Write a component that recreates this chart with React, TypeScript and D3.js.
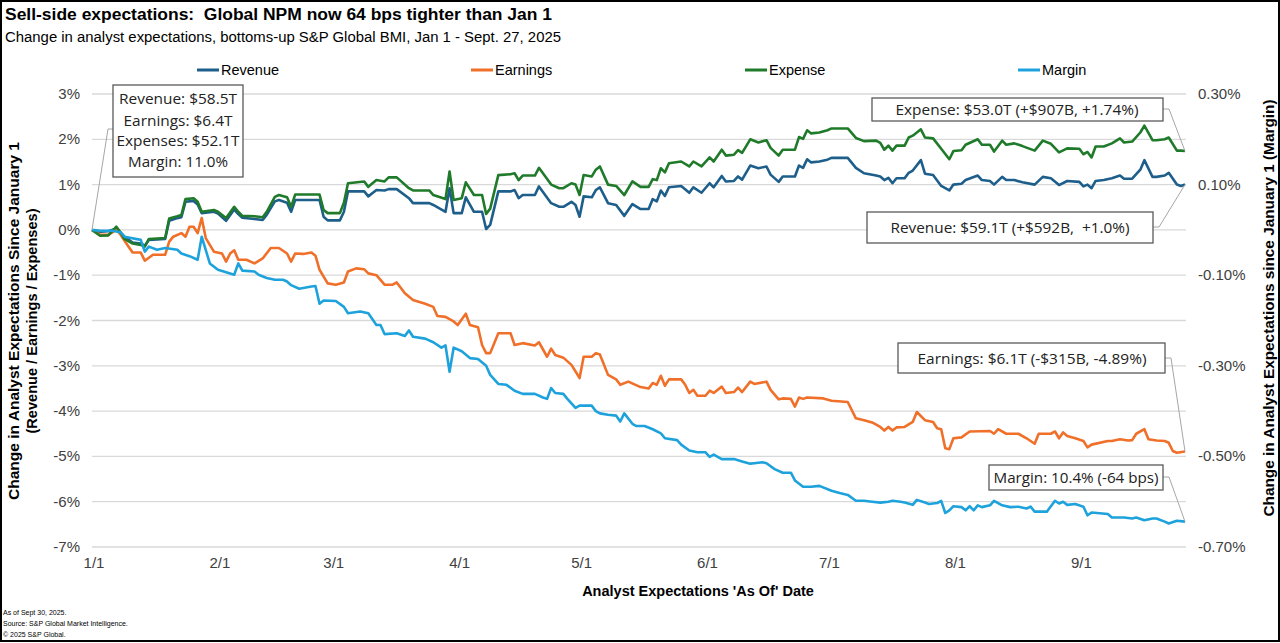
import React from "react";
import * as d3 from "d3";

// ---------- DATA (day offset from Jan 1 2025, % change) ----------
const revenuePoints: [number, number][] = [
  [0, 0], [2, -0.04], [4, -0.03], [6, 0.03], [7, -0.06], [8, -0.15], [10, -0.28], [12, -0.3], [13, -0.35], [14, -0.22],
  [18, -0.2], [19, 0.2], [21, 0.26], [22, 0.28], [23, 0.62], [25, 0.64], [26, 0.56], [27, 0.37], [30, 0.4], [31, 0.36],
  [33, 0.2], [35, 0.45], [36, 0.35], [37, 0.27], [40, 0.24], [42, 0.22], [43, 0.33], [45, 0.63], [46, 0.66], [48, 0.6],
  [49, 0.4], [50, 0.66], [56, 0.66], [57, 0.29], [58, 0.21], [61, 0.21], [62, 0.4], [63, 0.85], [67, 0.85], [68, 0.74],
  [70, 0.88], [72, 0.87], [73, 0.9], [75, 0.9], [78, 0.7], [79, 0.59], [83, 0.59], [84, 0.55], [87, 0.4], [88, 0.92],
  [89, 0.37], [91, 0.37], [92, 0.72], [94, 0.4], [96, 0.4], [97, 0.02], [98, 0.11], [100, 0.85], [103, 0.85], [104, 0.88],
  [105, 0.7], [106, 0.77], [109, 0.77], [110, 0.96], [113, 0.59], [115, 0.51], [116, 0.51], [118, 0.62], [119, 0.55], [120, 0.29],
  [121, 0.74], [123, 0.72], [124, 0.88], [125, 0.94], [127, 0.59], [129, 0.55], [131, 0.31], [133, 0.57], [135, 0.46], [137, 0.46],
  [138, 0.68], [139, 0.63], [140, 0.87], [141, 0.75], [142, 0.94], [145, 0.97], [147, 0.82], [148, 0.94], [150, 0.82], [152, 1.03],
  [153, 0.94], [155, 1.19], [156, 1.07], [158, 1.08], [159, 1.18], [160, 1.11], [162, 1.42], [164, 1.36], [166, 1.4], [167, 1.22],
  [169, 1.06], [170, 1.18], [173, 1.18], [174, 1.42], [175, 1.37], [176, 1.56], [177, 1.49], [179, 1.51], [181, 1.55], [182, 1.59],
  [186, 1.59], [188, 1.37], [190, 1.25], [193, 1.2], [194, 1.18], [195, 1.1], [196, 1.15], [197, 1.03], [198, 1.14], [200, 1.14],
  [201, 1.26], [202, 1.31], [204, 1.54], [205, 1.24], [207, 1.21], [209, 0.97], [211, 0.87], [212, 1.0], [214, 1.02], [215, 1.1],
  [218, 1.2], [219, 1.1], [221, 1.08], [222, 1.0], [224, 1.17], [225, 1.1], [227, 1.1], [229, 1.05], [232, 1.0], [234, 1.17],
  [236, 1.14], [238, 0.99], [240, 1.08], [243, 1.06], [244, 0.96], [245, 1.0], [246, 0.92], [247, 1.08], [249, 1.1], [251, 1.14],
  [253, 1.2], [254, 1.13], [256, 1.13], [258, 1.33], [259, 1.54], [261, 1.17], [262, 1.17], [264, 1.2], [265, 1.26], [267, 1.0],
  [268, 0.97], [269, 1.0],
];

const expensePoints: [number, number][] = [
  [0, 0], [2, -0.13], [4, -0.12], [6, 0.07], [7, -0.05], [8, -0.2], [10, -0.3], [12, -0.33], [13, -0.37], [14, -0.2],
  [18, -0.18], [19, 0.25], [21, 0.3], [22, 0.33], [23, 0.68], [25, 0.7], [26, 0.62], [27, 0.4], [30, 0.44], [31, 0.4],
  [33, 0.26], [35, 0.51], [36, 0.4], [37, 0.31], [40, 0.3], [42, 0.28], [43, 0.4], [45, 0.73], [46, 0.77], [48, 0.72],
  [49, 0.51], [50, 0.78], [56, 0.78], [57, 0.44], [58, 0.37], [61, 0.37], [62, 0.6], [63, 1.03], [67, 1.07], [68, 0.95],
  [70, 1.1], [72, 1.07], [73, 1.16], [75, 1.16], [78, 0.92], [79, 0.87], [83, 0.87], [84, 0.77], [87, 0.68], [88, 1.29],
  [89, 0.66], [91, 0.7], [92, 1.05], [94, 0.77], [96, 0.77], [97, 0.35], [98, 0.47], [100, 1.21], [103, 1.23], [104, 1.25],
  [105, 1.1], [106, 1.2], [109, 1.2], [110, 1.37], [113, 1.0], [115, 0.92], [116, 0.92], [118, 1.03], [119, 1.0], [120, 0.77],
  [121, 1.21], [123, 1.18], [124, 1.33], [125, 1.4], [127, 1.0], [129, 0.97], [131, 0.77], [133, 1.07], [135, 0.95], [137, 0.95],
  [138, 1.12], [139, 1.1], [140, 1.36], [141, 1.27], [142, 1.47], [145, 1.51], [147, 1.4], [148, 1.51], [150, 1.4], [152, 1.6],
  [153, 1.51], [155, 1.77], [156, 1.64], [158, 1.66], [159, 1.76], [160, 1.7], [162, 2.0], [164, 1.93], [166, 1.98], [167, 1.81],
  [169, 1.64], [170, 1.77], [173, 1.77], [174, 2.05], [175, 2.01], [176, 2.2], [177, 2.13], [179, 2.15], [181, 2.2], [182, 2.24],
  [186, 2.24], [188, 2.03], [190, 1.96], [193, 1.97], [194, 1.92], [195, 1.77], [196, 1.86], [197, 1.75], [198, 1.86], [200, 1.86],
  [201, 2.04], [202, 2.08], [204, 2.22], [205, 2.04], [207, 2.02], [209, 1.79], [211, 1.56], [212, 1.74], [214, 1.76], [215, 1.88],
  [218, 2.0], [219, 1.88], [221, 1.88], [222, 1.73], [224, 1.97], [225, 1.88], [227, 1.91], [229, 1.85], [232, 1.75], [234, 1.97],
  [236, 1.9], [238, 1.71], [240, 1.8], [243, 1.79], [244, 1.67], [245, 1.72], [246, 1.6], [247, 1.84], [249, 1.84], [251, 1.91],
  [253, 2.02], [254, 1.93], [256, 1.95], [258, 2.15], [259, 2.3], [261, 1.98], [262, 1.98], [264, 2.0], [265, 2.04], [267, 1.75],
  [268, 1.75], [269, 1.74],
];

const earningsPoints: [number, number][] = [
  [0, 0], [2, -0.11], [4, -0.11], [6, 0.0], [7, -0.1], [9, -0.37], [10, -0.5], [12, -0.5], [13, -0.68], [15, -0.55],
  [18, -0.55], [19, -0.26], [20, -0.15], [22, -0.07], [23, -0.15], [24, 0.07], [25, 0.07], [26, -0.07], [27, 0.26], [28, -0.18],
  [30, -0.48], [32, -0.52], [33, -0.7], [34, -0.52], [35, -0.45], [36, -0.66], [38, -0.66], [40, -0.74], [42, -0.63], [44, -0.4],
  [46, -0.4], [48, -0.52], [49, -0.7], [50, -0.52], [52, -0.53], [54, -0.5], [55, -0.57], [56, -0.88], [58, -1.18], [60, -1.21],
  [62, -1.16], [63, -0.92], [65, -0.85], [67, -0.87], [68, -0.96], [70, -1.0], [72, -1.21], [74, -1.21], [75, -1.16], [77, -1.4],
  [79, -1.55], [82, -1.63], [84, -1.7], [85, -1.9], [87, -1.92], [89, -2.02], [90, -2.1], [92, -1.85], [93, -2.1], [95, -2.15],
  [96, -2.54], [97, -2.72], [98, -2.72], [100, -2.28], [103, -2.28], [104, -2.54], [106, -2.5], [109, -2.55], [110, -2.48], [112, -2.8],
  [113, -2.62], [114, -2.76], [116, -2.82], [118, -2.98], [120, -3.27], [121, -2.8], [123, -2.8], [124, -2.72], [125, -2.75], [127, -3.2],
  [129, -3.3], [130, -3.42], [132, -3.35], [135, -3.47], [137, -3.5], [138, -3.38], [139, -3.42], [140, -3.22], [141, -3.44], [142, -3.3],
  [145, -3.3], [146, -3.42], [147, -3.6], [148, -3.53], [149, -3.66], [151, -3.66], [152, -3.55], [153, -3.6], [155, -3.46], [156, -3.6],
  [158, -3.58], [159, -3.48], [160, -3.58], [162, -3.35], [163, -3.4], [166, -3.35], [167, -3.53], [169, -3.74], [170, -3.72], [172, -3.73],
  [173, -3.9], [174, -3.7], [175, -3.73], [176, -3.7], [180, -3.72], [182, -3.77], [186, -3.8], [188, -4.16], [190, -4.2], [192, -4.25],
  [194, -4.35], [195, -4.43], [196, -4.35], [197, -4.43], [198, -4.36], [200, -4.35], [202, -4.24], [203, -4.02], [205, -4.2], [207, -4.24],
  [208, -4.38], [209, -4.4], [210, -4.82], [211, -4.84], [212, -4.6], [214, -4.58], [216, -4.45], [221, -4.44], [222, -4.5], [223, -4.4],
  [225, -4.5], [228, -4.5], [230, -4.6], [232, -4.72], [233, -4.5], [236, -4.5], [237, -4.45], [238, -4.6], [239, -4.47], [240, -4.55],
  [242, -4.6], [244, -4.66], [245, -4.8], [246, -4.74], [250, -4.66], [251, -4.66], [253, -4.62], [255, -4.65], [256, -4.64], [257, -4.5],
  [259, -4.4], [260, -4.62], [262, -4.65], [264, -4.66], [265, -4.7], [266, -4.88], [267, -4.92], [269, -4.89],
];

// Margin change in percentage points (right axis)
const marginPoints: [number, number][] = [
  [0, 0], [2, -0.002], [5, -0.002], [7, -0.005], [8, -0.015], [12, -0.022], [13, -0.048], [14, -0.037], [16, -0.044], [18, -0.04],
  [21, -0.044], [22, -0.052], [24, -0.058], [26, -0.066], [27, -0.015], [29, -0.074], [31, -0.088], [35, -0.099], [36, -0.074], [37, -0.09],
  [40, -0.092], [41, -0.099], [43, -0.106], [45, -0.11], [47, -0.11], [48, -0.114], [49, -0.122], [51, -0.13], [54, -0.125], [55, -0.124],
  [56, -0.163], [57, -0.156], [60, -0.157], [62, -0.17], [63, -0.184], [66, -0.18], [68, -0.184], [70, -0.21], [71, -0.21], [72, -0.23],
  [75, -0.228], [77, -0.234], [78, -0.222], [79, -0.236], [82, -0.24], [84, -0.248], [86, -0.26], [87, -0.255], [88, -0.313], [89, -0.26],
  [91, -0.268], [93, -0.283], [95, -0.285], [97, -0.3], [98, -0.32], [100, -0.34], [102, -0.342], [104, -0.355], [106, -0.362], [109, -0.362],
  [111, -0.37], [112, -0.373], [113, -0.349], [114, -0.36], [116, -0.362], [117, -0.373], [119, -0.393], [120, -0.388], [123, -0.388], [124, -0.4],
  [125, -0.405], [127, -0.408], [129, -0.41], [130, -0.423], [131, -0.405], [133, -0.428], [134, -0.433], [136, -0.433], [138, -0.44], [140, -0.449],
  [141, -0.46], [144, -0.464], [145, -0.474], [147, -0.487], [149, -0.491], [151, -0.491], [152, -0.501], [153, -0.496], [155, -0.506], [158, -0.506],
  [160, -0.511], [162, -0.516], [163, -0.515], [165, -0.513], [166, -0.515], [168, -0.528], [170, -0.536], [172, -0.536], [173, -0.553], [175, -0.567],
  [177, -0.567], [179, -0.565], [182, -0.576], [184, -0.581], [186, -0.585], [188, -0.598], [190, -0.598], [192, -0.6], [194, -0.602], [196, -0.6],
  [197, -0.598], [199, -0.6], [200, -0.602], [202, -0.607], [203, -0.596], [205, -0.602], [206, -0.605], [208, -0.603], [209, -0.598], [210, -0.625],
  [211, -0.619], [212, -0.61], [214, -0.612], [215, -0.619], [216, -0.61], [217, -0.619], [218, -0.608], [219, -0.612], [221, -0.608], [222, -0.598],
  [224, -0.608], [226, -0.612], [228, -0.611], [230, -0.615], [231, -0.611], [232, -0.622], [235, -0.622], [237, -0.598], [238, -0.604], [239, -0.6],
  [240, -0.607], [242, -0.605], [244, -0.611], [245, -0.63], [246, -0.624], [250, -0.627], [251, -0.635], [254, -0.635], [256, -0.637], [257, -0.635],
  [259, -0.641], [261, -0.637], [262, -0.637], [264, -0.644], [265, -0.648], [267, -0.642], [269, -0.644],
];

const leftTickValues = [3, 2, 1, 0, -1, -2, -3, -4, -5, -6, -7];
const rightTickValues = [0.3, 0.1, -0.1, -0.3, -0.5, -0.7];
const monthTickDates = ["2025-01-01", "2025-02-01", "2025-03-01", "2025-04-01", "2025-05-01", "2025-06-01", "2025-07-01", "2025-08-01", "2025-09-01"];
const monthTickLabels = ["1/1", "2/1", "3/1", "4/1", "5/1", "6/1", "7/1", "8/1", "9/1"];
const seriesNames = ["Revenue", "Earnings", "Expense", "Margin"];

const titleText = "Sell-side expectations:  Global NPM now 64 bps tighter than Jan 1";
const subtitleText = "Change in analyst expectations, bottoms-up S&P Global BMI, Jan 1 - Sept. 27, 2025";
const startBoxLines = ["Revenue: $58.5T", "Earnings: $6.4T", "Expenses: $52.1T", "Margin: 11.0%"];
const expenseLabel = "Expense: $53.0T (+$907B, +1.74%)";
const revenueLabel = "Revenue: $59.1T (+$592B,  +1.0%)";
const earningsLabel = "Earnings: $6.1T (-$315B, -4.89%)";
const marginLabel = "Margin: 10.4% (-64 bps)";
const leftTitle1 = "Change in Analyst Expectations Since January 1";
const leftTitle2 = "(Revenue / Earnings / Expenses)";
const rightTitle = "Change in Analyst Expectations since January 1 (Margin)";
const xTitle = "Analyst Expectations 'As Of' Date";
const footerLines = ["As of Sept 30, 2025.", "Source: S&P Global Market Intelligence.", "\u00A9 2025 S&P Global."];

// ---------- STYLE ----------
const COLORS: Record<string, string> = {
  Revenue: "#1d5f8a",
  Earnings: "#f0702a",
  Expense: "#1f7a2a",
  Margin: "#1ea2dc",
};
const FONT = "'Liberation Sans', Arial, Helvetica, sans-serif";
const BOXFONT = "'Open Sans', 'Noto Sans', sans-serif";
const PRE = { whiteSpace: "pre" as const };

export default function App() {
  const W = 1280;
  const H = 643;
  const base = new Date(2025, 0, 1);
  const toDate = (d: number) => d3.timeDay.offset(base, d);
  const parse = d3.timeParse("%Y-%m-%d");

  const x = d3.scaleTime().domain([base, toDate(269)]).range([92, 1185]);
  const yL = d3.scaleLinear().domain([-7, 3]).range([547, 94]);
  const yR = d3.scaleLinear().domain([-0.7, 0.3]).range([547, 94]);

  const lineL = d3
    .line<[number, number]>()
    .x((p) => x(toDate(p[0])))
    .y((p) => yL(p[1]));
  const lineR = d3
    .line<[number, number]>()
    .x((p) => x(toDate(p[0])))
    .y((p) => yR(p[1]));

  const last = (arr: [number, number][]) => arr[arr.length - 1];
  const endX = x(toDate(last(revenuePoints)[0]));
  const startX = x(toDate(revenuePoints[0][0]));
  const startY = yL(revenuePoints[0][1]);

  const fmtL = (v: number) => `${v}%`;
  const fmtR = (v: number) => `${v.toFixed(2)}%`;

  const legendX = [197, 471, 745, 1018];

  const endBoxes = [
    { label: expenseLabel, bx: 872, by: 98, bw: 291, bh: 23, tx: 1017, ty: 114.5, tl: 243, lx: 1163, ly: 109, ex: endX, ey: yL(last(expensePoints)[1]) },
    { label: revenueLabel, bx: 867, by: 212, bw: 286, bh: 31, tx: 1010, ty: 233, tl: 239, lx: 1153, ly: 227, ex: endX, ey: yL(last(revenuePoints)[1]) },
    { label: earningsLabel, bx: 898, by: 343, bw: 267, bh: 30, tx: 1032, ty: 363.5, tl: 229, lx: 1165, ly: 358, ex: endX, ey: yL(last(earningsPoints)[1]) },
    { label: marginLabel, bx: 989, by: 465, bw: 174, bh: 25, tx: 1076, ty: 482.5, tl: 165, lx: 1163, ly: 477, ex: endX, ey: yR(last(marginPoints)[1]) },
  ];

  const startLineY = [104, 125.5, 146, 167];
  const startLineLen = [118, 109, 123, 100];

  return (
    <svg
      width={W}
      height={H}
      viewBox={`0 0 ${W} ${H}`}
      style={{ position: "absolute", left: 0, top: 0, display: "block", background: "#fff" }}
    >
      <rect x={0} y={0} width={W} height={H} fill="#fff" />

      {/* Titles */}
      <text x={5} y={20} fontFamily={FONT} fontWeight="bold" fontSize={16} fill="#000" textLength={547} lengthAdjust="spacingAndGlyphs" xmlSpace="preserve" style={PRE}>
        {titleText}
      </text>
      <text x={5} y={42} fontFamily={FONT} fontSize={14} fill="#000" textLength={556} lengthAdjust="spacingAndGlyphs">
        {subtitleText}
      </text>

      {/* Legend */}
      {seriesNames.map((n, i) => (
        <g key={n}>
          <line x1={legendX[i]} x2={legendX[i] + 22} y1={70} y2={70} stroke={COLORS[n]} strokeWidth={3} />
          <text x={legendX[i] + 24} y={75} fontFamily={FONT} fontSize={14.5} fill="#000">
            {n}
          </text>
        </g>
      ))}

      {/* Gridlines */}
      {leftTickValues.map((v) => (
        <line key={v} x1={92} x2={1186} y1={yL(v)} y2={yL(v)} stroke="#d9d9d9" strokeWidth={1.3} />
      ))}

      {/* Left ticks */}
      {leftTickValues.map((v) => (
        <text key={v} x={80} y={yL(v) + 5} textAnchor="end" fontFamily={FONT} fontSize={15} fill="#404040">
          {fmtL(v)}
        </text>
      ))}
      {/* Right ticks */}
      {rightTickValues.map((v) => (
        <text key={v} x={1198} y={yR(v) + 5} fontFamily={FONT} fontSize={15} fill="#404040">
          {fmtR(v)}
        </text>
      ))}
      {/* X ticks */}
      {monthTickDates.map((d, i) => (
        <text key={d} x={x(parse(d) as Date) + 2} y={568} textAnchor="middle" fontFamily={FONT} fontSize={15} fill="#404040">
          {monthTickLabels[i]}
        </text>
      ))}

      {/* Axis titles */}
      <text x={698} y={596} textAnchor="middle" fontFamily={FONT} fontWeight="bold" fontSize={14.5} fill="#000">
        {xTitle}
      </text>
      <text
        transform={`translate(18.5,321) rotate(-90)`}
        textAnchor="middle"
        fontFamily={FONT}
        fontWeight="bold"
        fontSize={14.5}
        fill="#000"
        textLength={358}
        lengthAdjust="spacingAndGlyphs"
      >
        {leftTitle1}
      </text>
      <text
        transform={`translate(37,321) rotate(-90)`}
        textAnchor="middle"
        fontFamily={FONT}
        fontWeight="bold"
        fontSize={14.5}
        fill="#000"
        textLength={225}
        lengthAdjust="spacingAndGlyphs"
      >
        {leftTitle2}
      </text>
      <text
        transform={`translate(1274,308) rotate(-90)`}
        textAnchor="middle"
        fontFamily={FONT}
        fontWeight="bold"
        fontSize={14.5}
        fill="#000"
        textLength={417}
        lengthAdjust="spacingAndGlyphs"
      >
        {rightTitle}
      </text>

      {/* Series */}
      <path d={lineL(revenuePoints) || ""} fill="none" stroke={COLORS.Revenue} strokeWidth={2.6} strokeLinejoin="round" />
      <path d={lineL(earningsPoints) || ""} fill="none" stroke={COLORS.Earnings} strokeWidth={2.6} strokeLinejoin="round" />
      <path d={lineL(expensePoints) || ""} fill="none" stroke={COLORS.Expense} strokeWidth={2.6} strokeLinejoin="round" />
      <path d={lineR(marginPoints) || ""} fill="none" stroke={COLORS.Margin} strokeWidth={2.6} strokeLinejoin="round" />

      {/* Start annotation */}
      <polyline points={`113,129 108,129 ${startX},${startY}`} fill="none" stroke="#a6a6a6" strokeWidth={1} />
      <rect x={113} y={85} width={130} height={92} fill="#fff" stroke="#595959" strokeWidth={1.3} />
      {startBoxLines.map((t, i) => (
        <text
          key={t}
          x={178}
          y={startLineY[i]}
          textAnchor="middle"
          fontFamily={BOXFONT}
          fontSize={15}
          fill="#222"
          textLength={startLineLen[i]}
          lengthAdjust="spacingAndGlyphs"
        >
          {t}
        </text>
      ))}

      {/* End annotations */}
      {endBoxes.map((b) => (
        <g key={b.label}>
          <polyline
            points={`${b.lx},${b.ly} ${b.lx + 6},${b.ly} ${b.ex},${b.ey}`}
            fill="none"
            stroke="#a6a6a6"
            strokeWidth={1}
          />
          <rect x={b.bx} y={b.by} width={b.bw} height={b.bh} fill="#fff" stroke="#595959" strokeWidth={1.3} />
          <text
            x={b.tx}
            y={b.ty}
            textAnchor="middle"
            fontFamily={BOXFONT}
            fontSize={15}
            fill="#222"
            textLength={b.tl}
            lengthAdjust="spacingAndGlyphs"
            xmlSpace="preserve"
            style={PRE}
          >
            {b.label}
          </text>
        </g>
      ))}

      {/* Footer */}
      {footerLines.map((t, i) => (
        <text key={t} x={3} y={615 + i * 11} fontFamily={FONT} fontSize={7} fill="#000">
          {t}
        </text>
      ))}

      {/* Frame */}
      <rect x={1} y={1} width={W - 2} height={640} fill="none" stroke="#000" strokeWidth={2} />
    </svg>
  );
}
